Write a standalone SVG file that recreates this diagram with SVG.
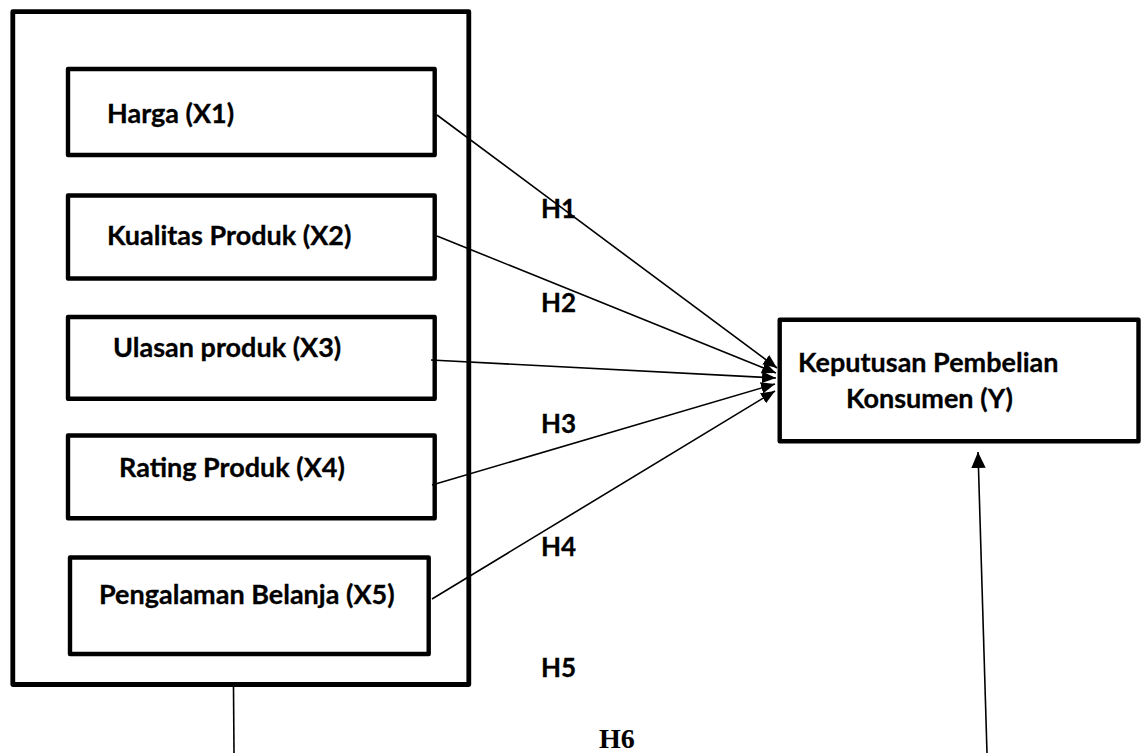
<svg xmlns="http://www.w3.org/2000/svg" width="1142" height="753" viewBox="0 0 1142 753">
<style>
.box{fill:#fff;stroke:#000;stroke-width:4.4;stroke-linejoin:round}
.outer{fill:#fff;stroke:#000;stroke-width:4.8;stroke-linejoin:round}
.lbl{font-family:Lato,"Open Sans","Liberation Sans",sans-serif;font-weight:bold;font-size:27px;fill:#000;stroke:#000;stroke-width:0.3}
.hl{font-family:Lato,"Open Sans","Liberation Sans",sans-serif;font-weight:bold;font-size:26px;fill:#000;stroke:#000;stroke-width:0.3}
.h6{font-family:"Liberation Serif","Times New Roman",serif;font-weight:bold;font-size:28px;fill:#000}
.con{stroke:#000;stroke-width:1.6;fill:none}
</style>
<defs>
<marker id="arr" viewBox="0 0 10 10" refX="10" refY="5" markerWidth="14" markerHeight="14" markerUnits="userSpaceOnUse" orient="auto">
<path d="M0,0.8 L10,5 L0,9.2 z" fill="#000"/>
</marker>
<marker id="arrB" viewBox="0 0 10 10" refX="10" refY="5" markerWidth="16" markerHeight="16" markerUnits="userSpaceOnUse" orient="auto">
<path d="M0,0.5 L10,5 L0,9.5 z" fill="#000"/>
</marker>
</defs>
<rect width="1142" height="753" fill="#fff"/>
<g id="outer-group">
<rect class="outer" x="12.8" y="11.7" width="456" height="672.8"/>
</g>
<g id="x1">
<rect class="box" x="68" y="69" width="366.7" height="86"/>
<text class="lbl" x="107" y="123">Harga (X1)</text>
</g>
<g id="x2">
<rect class="box" x="68" y="195.5" width="366.7" height="83"/>
<text class="lbl" x="107" y="245">Kualitas Produk (X2)</text>
</g>
<g id="x3">
<rect class="box" x="68" y="317" width="366.7" height="81.7"/>
<text class="lbl" x="113" y="357">Ulasan produk (X3)</text>
</g>
<g id="x4">
<rect class="box" x="68" y="435.5" width="366.7" height="82.8"/>
<text class="lbl" x="119" y="477">Rating Produk (X4)</text>
</g>
<g id="x5">
<rect class="box" x="70" y="557.5" width="358.7" height="96.5"/>
<text class="lbl" x="99" y="604">Pengalaman Belanja (X5)</text>
</g>
<g id="y">
<rect class="box" x="779.7" y="319.8" width="358.8" height="121.4"/>
<text class="lbl" x="798" y="372">Keputusan Pembelian</text>
<text class="lbl" x="846" y="408">Konsumen (Y)</text>
</g>
<g id="connectors">
<line class="con" x1="437" y1="115" x2="777" y2="368" marker-end="url(#arr)"/>
<line class="con" x1="437" y1="236" x2="776" y2="373" marker-end="url(#arr)"/>
<line class="con" x1="431" y1="360" x2="776" y2="378" marker-end="url(#arr)"/>
<line class="con" x1="432" y1="485" x2="775" y2="384" marker-end="url(#arr)"/>
<line class="con" x1="432" y1="599" x2="775" y2="391" marker-end="url(#arr)"/>
<line class="con" x1="233.5" y1="687" x2="234" y2="753"/>
<line class="con" x1="987" y1="753" x2="978" y2="452" marker-end="url(#arrB)"/>
</g>
<g id="labels">
<text class="hl" x="541" y="218">H1</text>
<text class="hl" x="541" y="312">H2</text>
<text class="hl" x="541" y="433">H3</text>
<text class="hl" x="541" y="556">H4</text>
<text class="hl" x="541" y="677">H5</text>
<text class="h6" x="599" y="748">H6</text>
</g>
</svg>
